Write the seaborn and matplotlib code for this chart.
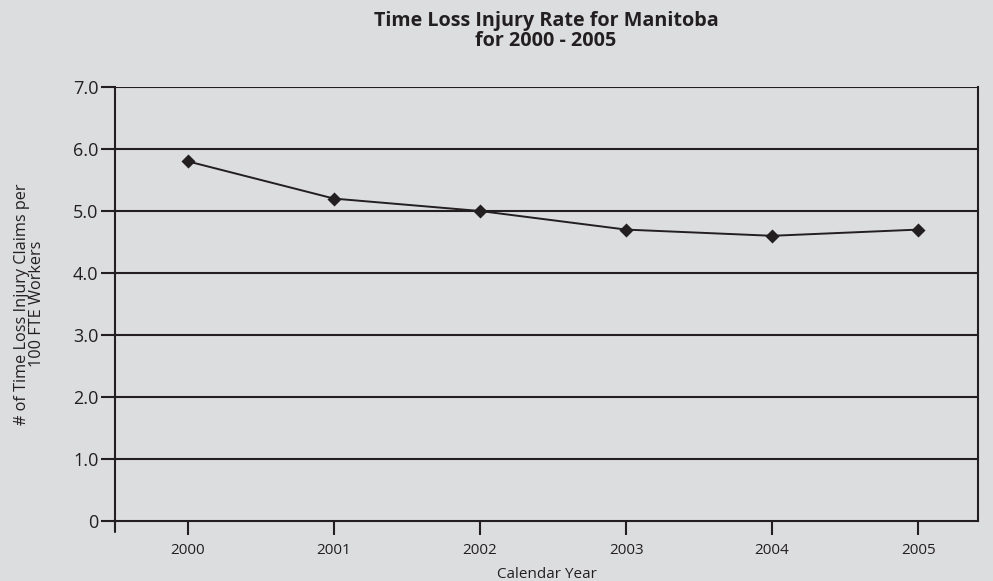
import matplotlib
matplotlib.use("Agg")
import matplotlib.pyplot as plt
import seaborn as sns
import pandas as pd

years = ["2000", "2001", "2002", "2003", "2004", "2005"]
rates = [5.8, 5.2, 5.0, 4.7, 4.6, 4.7]
y_ticks = [0, 1, 2, 3, 4, 5, 6, 7]
y_tick_labels = ["0", "1.0", "2.0", "3.0", "4.0", "5.0", "6.0", "7.0"]

bg = "#dcdddf"
ink = "#231f20"

sns.set_theme(style="white")
plt.rcParams["font.family"] = ["Open Sans", "DejaVu Sans"]

df = pd.DataFrame({"year": years, "rate": rates})

fig = plt.figure(figsize=(9.93, 5.81), dpi=100, facecolor=bg)
ax = fig.add_axes([115 / 993, 60 / 581, 863 / 993, 434 / 581])
ax.set_facecolor(bg)

# horizontal reference lines at each whole unit
for v in y_ticks[1:]:
    ax.axhline(v, color=ink, lw=1.5, zorder=1)

sns.pointplot(data=df, x="year", y="rate", ax=ax, color=ink,
              markers="D", linestyles="-", markersize=6.5, linewidth=1.4,
              zorder=3)

ax.set_xlim(-0.5, 5.41)
ax.set_ylim(0, 7)
ax.set_yticks(y_ticks)
ax.set_yticklabels(y_tick_labels)

for side in ["left", "bottom", "right"]:
    ax.spines[side].set_visible(True)
    ax.spines[side].set_color(ink)
    ax.spines[side].set_linewidth(1.5)
ax.spines["top"].set_visible(False)

ax.tick_params(axis="y", direction="out", length=10, width=1.5, color=ink,
               labelsize=13, labelcolor=ink, pad=2, left=True)
ax.tick_params(axis="x", direction="out", length=10, width=1.5, color=ink,
               labelsize=11, labelcolor=ink, pad=6, bottom=True)

# left axis line continues below the baseline
ax.plot([-0.5, -0.5], [0, -0.18], color=ink, lw=1.5, clip_on=False,
        zorder=4)

ax.set_xlabel("Calendar Year", fontsize=11, color=ink, labelpad=6)
ax.set_ylabel("# of Time Loss Injury Claims per\n100 FTE Workers",
              fontsize=11.7, color=ink, labelpad=20, linespacing=0.95)

fig.text(546 / 993, 1 - 31 / 581,
         "Time Loss Injury Rate for Manitoba\nfor 2000 - 2005",
         ha="center", va="center", fontsize=14.2, fontweight="bold",
         color=ink, linespacing=0.97)

fig.savefig("out.png", dpi=100, facecolor=bg)
